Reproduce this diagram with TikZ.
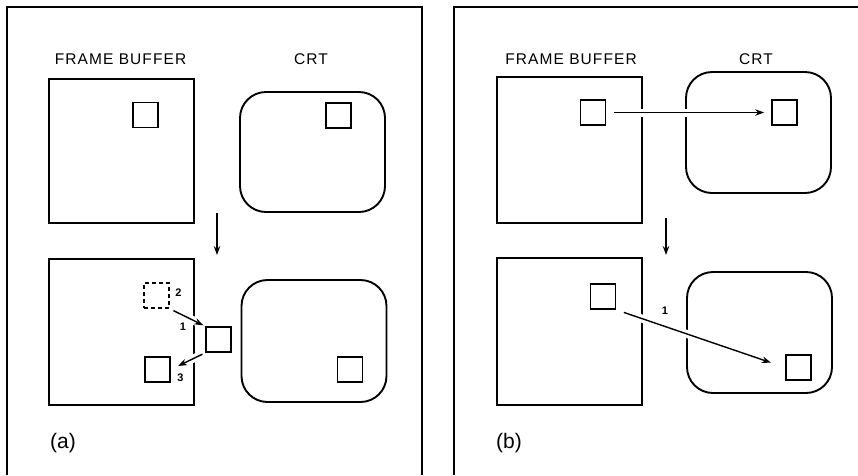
\documentclass[tikz,border=0pt]{standalone}
\usepackage{fontspec}
\setmainfont{Liberation Sans}
\newfontfamily\lblfont[LetterSpace=7]{Liberation Sans}
\usetikzlibrary{arrows.meta}
\begin{document}
\begin{tikzpicture}[x=1pt,y=-1pt,
  panel/.style={line width=1.4pt},
  fbbox/.style={draw, line width=1.9pt, inner sep=0pt, minimum width=145pt},
  crtbox/.style={draw, line width=1.9pt, rounded corners=26pt, inner sep=0pt, minimum width=145pt, minimum height=121pt},
  pix/.style={draw, line width=1.7pt, inner sep=0pt, minimum width=25pt, minimum height=25pt},
  dpix/.style={pix, dash pattern=on 4pt off 3pt},
  title/.style={font=\lblfont\fontsize{15.5}{15.5}\selectfont, inner sep=0pt},
  num/.style={font=\fontsize{11}{11}\selectfont\bfseries, inner sep=0pt},
  captext/.style={font=\fontsize{21}{21}\selectfont, inner sep=0pt},
  arr/.style={line width=1.4pt, -{Stealth[length=9pt,width=6.5pt]}},
  harr/.style={arr, preaction={draw=white, line width=8pt, -}}
]
\useasboundingbox (0,0) rectangle (858,475);
\fill[white] (0,0) rectangle (858,475);
% panel frames
\draw[panel] (7,475) -- (7,7) -- (422,7) -- (422,475);
\draw[panel] (454,475) -- (454,7) -- (858,7);

% ---------- panel (a) ----------
\node[title] (fbt1) at (120.5,59) {FRAME BUFFER};
\node[title] (crtt1) at (311,59) {CRT};
\node[fbbox, minimum height=144pt] (fb1) at (121.5,151) {};
\node[pix] (sq1) at (145.5,115) {};
\node[crtbox, minimum height=120pt] (crt1) at (312.5,152) {};
\node[pix] (csq1) at (338.5,115.5) {};
\coordinate (d1s) at (217,213);
\coordinate (d1e) at (217,255);
\draw[arr] (d1s) -- (d1e);

\node[fbbox, minimum height=146pt] (fb2) at (121.5,332) {};
\node[crtbox, minimum height=122pt] (crt2) at (314,341) {};
\node[pix] (csq2) at (350,369.5) {};
\node[dpix] (dsq) at (156.5,295.5) {};
\node[pix] (msq) at (218.5,339.5) {};
\node[pix] (bsq) at (157.5,369.5) {};
\draw[harr, shorten <=4pt, shorten >=2pt] (dsq.south east) -- (msq.north west);
\draw[harr, shorten <=3pt, shorten >=8pt] (msq.south west) -- (bsq.east);
\node[num] (n2) at (178.5,293) {2};
\node[num] (n1a) at (183,327) {1};
\node[num] (n3) at (180.5,378) {3};
\node[captext] (capa) at (63,443) {(a)};

% ---------- panel (b) ----------
\node[title] (fbt2) at (571,59) {FRAME BUFFER};
\node[title] (crtt2) at (756,59) {CRT};
\node[fbbox, minimum height=146pt] (fb3) at (569.5,150) {};
\node[pix] (sq3) at (593,112.5) {};
\node[crtbox] (crt3) at (758.5,132.5) {};
\node[pix] (csq3) at (784.5,112.5) {};
\draw[harr, shorten <=8pt, shorten >=7pt] (sq3.east) -- (csq3.west);
\coordinate (d2s) at (666,218);
\coordinate (d2e) at (666,255);
\draw[arr] (d2s) -- (d2e);

\node[fbbox, minimum height=147pt] (fb4) at (569.5,331.5) {};
\node[pix] (sq4) at (603,296.5) {};
\node[crtbox] (crt4) at (759.5,332.5) {};
\node[pix] (csq4) at (798.5,367.5) {};
\draw[harr, shorten <=8pt, shorten >=15pt] (sq4.south east) -- (csq4.west);
\node[num] (n1b) at (665,311) {1};
\node[captext] (capb) at (509,443) {(b)};
\end{tikzpicture}
\end{document}
